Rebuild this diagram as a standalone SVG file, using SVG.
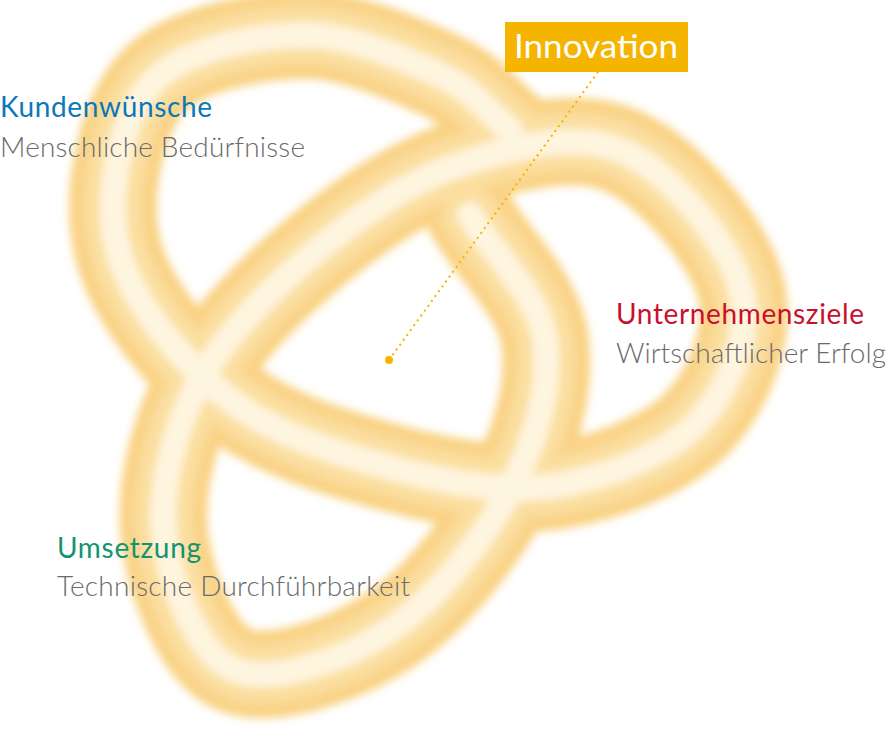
<svg xmlns="http://www.w3.org/2000/svg" width="887" height="736" viewBox="0 0 887 736">
<style>
.t{font-family:Lato,"Noto Sans",sans-serif;font-size:28px}
.g{fill:#6b6b6b;font-weight:300}
</style>
<defs>
<filter id="fz" x="-10%" y="-10%" width="120%" height="120%"><feGaussianBlur stdDeviation="4"/></filter>
<path id="knot" d="M470,215 C495,257 538.3,294.2 545,340 C551.7,385.8 535.8,441.7 510,490 C484.2,538.3 435.8,600 390,630 C344.2,660 272.5,685 235,670 C197.5,655 171.7,586.7 165,540 C158.3,493.3 172.5,435.8 195,390 C217.5,344.2 257.5,302 300,265 C342.5,228 396.7,187.2 450,168 C503.3,148.8 571.7,130.5 620,150 C668.3,169.5 726.7,240 740,285 C753.3,330 730,386.7 700,420 C670,453.3 610,476.7 560,485 C510,493.3 455,484.2 400,470 C345,455.8 277,436.7 230,400 C183,363.3 131.3,302.5 118,250 C104.7,197.5 119.7,120.8 150,85 C180.3,49.2 251.7,36.7 300,35 C348.3,33.3 405,59.2 440,75 C475,90.8 487,112 510,130" fill="none" stroke-linecap="round"/>
</defs>
<rect width="887" height="736" fill="#fff"/>
<g id="knot-shape" filter="url(#fz)">
<use href="#knot" stroke="#f6c052" stroke-width="88" opacity="0.7"/>
<use href="#knot" stroke="#fbe2a6" stroke-width="56" opacity="0.8"/>
<use href="#knot" stroke="#fffaf0" stroke-width="26" opacity="0.8"/>
</g>
<g id="connectors">
<line x1="389" y1="360" x2="598" y2="72" stroke="#f5b400" stroke-width="2" stroke-dasharray="2 4"/>
<circle cx="389" cy="360" r="4" fill="#f5b400"/>
</g>
<g id="innovation">
<rect x="505" y="22" width="183" height="50" fill="#f5b400"/>
<text x="596" y="58" class="t" fill="#fff" text-anchor="middle" style="font-size:33px" textLength="164" lengthAdjust="spacingAndGlyphs">Innovation</text>
</g>
<g id="kunden">
<text x="0" y="117" class="t" fill="#0a78b9" textLength="212">Kundenwünsche</text>
<text x="0" y="157" class="t g" textLength="305">Menschliche Bedürfnisse</text>
</g>
<g id="unternehmen">
<text x="616" y="324" class="t" fill="#c8102e" textLength="248">Unternehmensziele</text>
<text x="616" y="363" class="t g" textLength="270">Wirtschaftlicher Erfolg</text>
</g>
<g id="umsetzung">
<text x="57" y="558" class="t" fill="#12946f" textLength="144">Umsetzung</text>
<text x="57" y="596" class="t g" textLength="353">Technische Durchführbarkeit</text>
</g>
</svg>
